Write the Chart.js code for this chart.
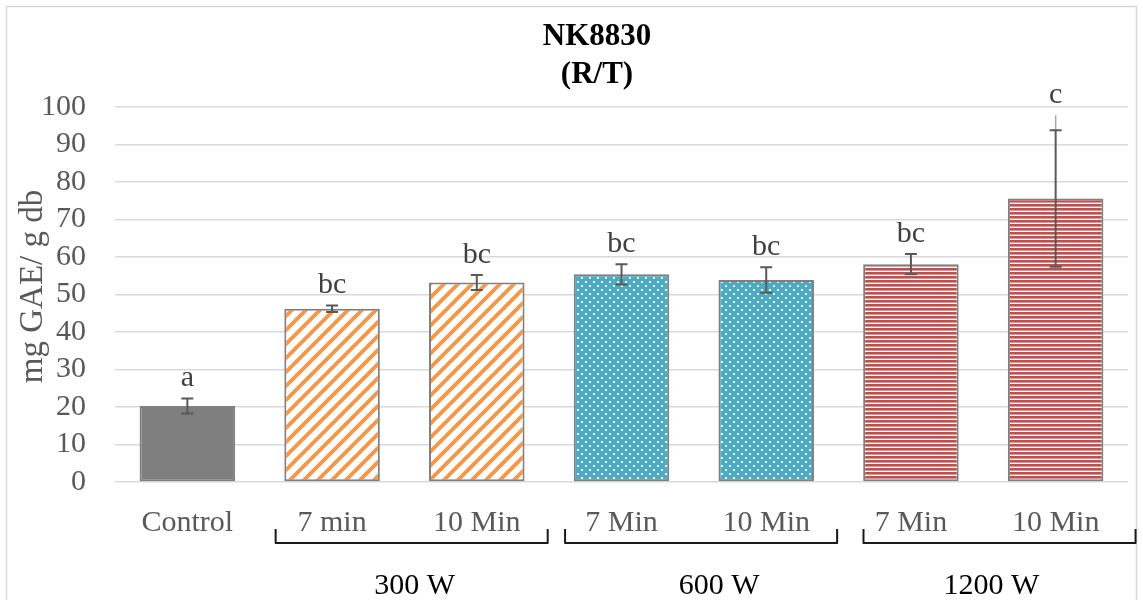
<!DOCTYPE html>
<html>
<head>
<meta charset="utf-8">
<script src="https://cdn.jsdelivr.net/npm/chart.js@4.4.0/dist/chart.umd.min.js"></script>
<style>
  html, body { margin: 0; padding: 0; background: #ffffff; }
  canvas { display: block; }
</style>
</head>
<body>
<canvas id="chart" width="1143" height="600"></canvas>
<script>
// Total phenolic content, NK8830 (R/T)
const categories = ['Control', '7 min', '10 Min', '7 Min', '10 Min', '7 Min', '10 Min'];
const means      = [20.3, 46.2, 53.2, 55.4, 53.9, 58.1, 75.6];
const errors     = [2.0, 0.85, 2.0, 2.7, 3.4, 2.7, 18.2];
const whiskerTop = [null, null, null, null, null, null, 97.8];
const letters    = ['a', 'bc', 'bc', 'bc', 'bc', 'bc', 'c'];
const yTicks     = [0, 10, 20, 30, 40, 50, 60, 70, 80, 90, 100];

const groupLabels = ['300 W', '600 W', '1200 W'];
const groupFirst  = [1, 3, 5];
const groupLast   = [2, 4, 6];

// fill style per bar
const fillKinds   = ['solid', 'diag', 'diag', 'dots', 'dots', 'hlines', 'hlines'];
// small horizontal offsets (px) for the brackets and the power labels
const bracketShift = [0, 0, 9];
const labelShift   = [3, 18, -8];

const SERIF = '"Liberation Serif", "Times New Roman", serif';

function tile(w, h, draw) {
  const c = document.createElement('canvas');
  c.width = w; c.height = h;
  const g = c.getContext('2d');
  draw(g, w, h);
  return c;
}

function makeFills(ctx) {
  const diag = tile(14, 14, (g, s) => {
    g.fillStyle = '#ffffff'; g.fillRect(0, 0, s, s);
    g.strokeStyle = '#F79646'; g.lineWidth = 3.8;
    g.beginPath();
    g.moveTo(-s, s); g.lineTo(s, -s);
    g.moveTo(0, s); g.lineTo(s, 0);
    g.moveTo(0, 2 * s); g.lineTo(2 * s, 0);
    g.stroke();
  });
  const dots = tile(8, 8, (g, s) => {
    g.fillStyle = '#4BACC6'; g.fillRect(0, 0, s, s);
    g.fillStyle = '#ffffff';
    g.fillRect(1, 1, 2, 2);
    g.fillRect(5, 5, 2, 2);
  });
  const hlines = tile(8, 4, (g, w, h) => {
    g.fillStyle = '#ffffff'; g.fillRect(0, 0, w, h);
    g.fillStyle = '#C0504D'; g.fillRect(0, 0, w, 2.6);
  });
  const map = {
    solid: '#7F7F7F',
    diag: ctx.createPattern(diag, 'repeat'),
    dots: ctx.createPattern(dots, 'repeat'),
    hlines: ctx.createPattern(hlines, 'repeat')
  };
  return fillKinds.map(k => map[k]);
}

const decorations = {
  id: 'decorations',
  afterDatasetsDraw(chart) {
    const { ctx, scales: { x, y } } = chart;
    ctx.save();
    // error bars
    means.forEach((m, i) => {
      const px = x.getPixelForValue(i);
      const top = y.getPixelForValue(m + errors[i]);
      const bot = y.getPixelForValue(m - errors[i]);
      if (whiskerTop[i] != null) {
        ctx.strokeStyle = '#A6A6A6';
        ctx.lineWidth = 1.5;
        ctx.beginPath();
        ctx.moveTo(px, top);
        ctx.lineTo(px, y.getPixelForValue(whiskerTop[i]));
        ctx.stroke();
      }
      ctx.strokeStyle = '#595959';
      ctx.lineWidth = 2;
      ctx.beginPath();
      ctx.moveTo(px, top); ctx.lineTo(px, bot);
      ctx.moveTo(px - 6, top); ctx.lineTo(px + 6, top);
      ctx.moveTo(px - 6, bot); ctx.lineTo(px + 6, bot);
      ctx.stroke();
    });
    // significance letters
    ctx.fillStyle = '#404040';
    ctx.font = '30px ' + SERIF;
    ctx.textAlign = 'center';
    ctx.textBaseline = 'middle';
    means.forEach((m, i) => {
      const hi = Math.max(m + errors[i], whiskerTop[i] ?? -Infinity);
      ctx.fillText(letters[i], x.getPixelForValue(i), y.getPixelForValue(hi) - 20);
    });
    ctx.restore();
  },
  afterDraw(chart) {
    const { ctx, chartArea, scales: { x } } = chart;
    ctx.save();
    // outer frame
    ctx.strokeStyle = '#D9D9D9';
    ctx.lineWidth = 1.5;
    ctx.strokeRect(6.5, 6.5, 1130, 700);

    // title
    ctx.fillStyle = '#000000';
    ctx.font = 'bold 31px ' + SERIF;
    ctx.textAlign = 'center';
    ctx.textBaseline = 'alphabetic';
    ctx.fillText('NK8830', 597, 45);
    ctx.fillText('(R/T)', 597, 83);

    // y-axis title
    ctx.save();
    ctx.translate(33, (chartArea.top + chartArea.bottom) / 2 - 8);
    ctx.rotate(-Math.PI / 2);
    ctx.fillStyle = '#595959';
    ctx.font = '33px ' + SERIF;
    ctx.textBaseline = 'middle';
    ctx.fillText('mg GAE/ g db', 0, 0);
    ctx.restore();

    // group brackets and power labels
    const cw = x.getPixelForValue(1) - x.getPixelForValue(0);
    ctx.strokeStyle = '#1A1A1A';
    ctx.lineWidth = 2;
    ctx.lineJoin = 'round';
    groupLabels.forEach((lab, g) => {
      const l = x.getPixelForValue(groupFirst[g]) - 0.39 * cw + bracketShift[g];
      const r = x.getPixelForValue(groupLast[g]) + 0.49 * cw + bracketShift[g];
      ctx.beginPath();
      ctx.moveTo(l, 529);
      ctx.lineTo(l, 543);
      ctx.lineTo(r, 543);
      ctx.lineTo(r, 529);
      ctx.stroke();
      ctx.fillStyle = '#000000';
      ctx.font = '30px ' + SERIF;
      ctx.textBaseline = 'middle';
      ctx.fillText(lab, (l + r) / 2 + labelShift[g], 586);
    });
    ctx.restore();
  }
};

const canvas = document.getElementById('chart');
const ctx = canvas.getContext('2d');

new Chart(ctx, {
  type: 'bar',
  data: {
    labels: categories,
    datasets: [{
      data: means,
      backgroundColor: makeFills(ctx),
      borderColor: '#7F7F7F',
      borderWidth: 2,
      borderSkipped: false,
      barPercentage: 0.66,
      categoryPercentage: 1.0
    }]
  },
  options: {
    responsive: false,
    animation: false,
    layout: { padding: { left: 0, right: 15, top: 107, bottom: 0 } },
    plugins: { legend: { display: false }, tooltip: { enabled: false }, title: { display: false } },
    scales: {
      x: {
        grid: { display: false },
        border: { display: false },
        ticks: {
          color: '#595959',
          font: { family: SERIF, size: 30 },
          padding: 15,
          maxRotation: 0,
          autoSkip: false
        },
        afterFit(s) { s.height = 118; }
      },
      y: {
        min: 0,
        max: 100,
        afterBuildTicks(s) { s.ticks = yTicks.map(v => ({ value: v })); },
        grid: { color: '#D9D9D9', lineWidth: 1.5, drawTicks: false },
        border: { display: false },
        ticks: {
          color: '#595959',
          font: { family: SERIF, size: 30 },
          padding: 29,
          autoSkip: false
        },
        afterFit(s) { s.width = 115; }
      }
    }
  },
  plugins: [decorations]
});
</script>
</body>
</html>
